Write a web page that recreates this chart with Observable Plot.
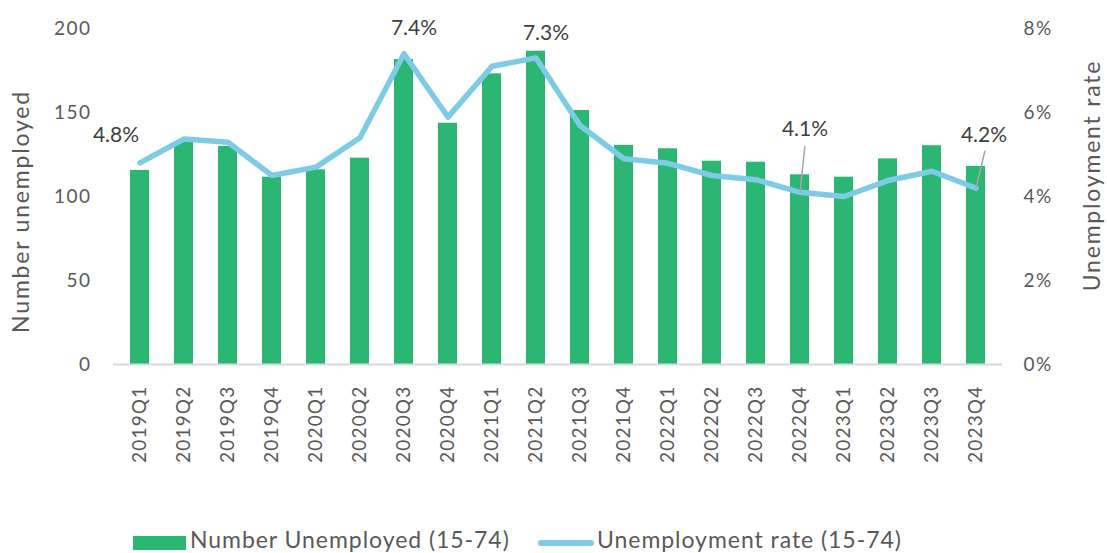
<!DOCTYPE html>
<html><head><meta charset="utf-8">
<script src="https://cdn.jsdelivr.net/npm/d3@7"></script>
<script src="https://cdn.jsdelivr.net/npm/@observablehq/plot@0.6"></script>
<style>
body{margin:0;background:#fff;font-family:Lato,"Open Sans",sans-serif;}
#wrap{position:relative;width:1107px;height:553px;overflow:hidden;}
.leg{position:absolute;top:525px;font-size:23px;color:#595959;font-family:Lato,sans-serif;white-space:nowrap;letter-spacing:0.95px;}
.sw{position:absolute;}
g[aria-label="x-axis tick label"] text{letter-spacing:1.2px;}
g[aria-label="y-axis tick label"] text{letter-spacing:1.5px;}
</style></head><body>
<div id="wrap"><div id="chart"></div></div>
<script>
const quarters = ["2019Q1","2019Q2","2019Q3","2019Q4","2020Q1","2020Q2","2020Q3","2020Q4","2021Q1","2021Q2","2021Q3","2021Q4","2022Q1","2022Q2","2022Q3","2022Q4","2023Q1","2023Q2","2023Q3","2023Q4"];
const unemployed = [115.5,132.3,129.8,111.5,115.9,122.8,181.5,143.6,173.0,186.5,151.2,130.4,128.4,121.0,120.4,112.9,111.5,122.4,130.2,117.9];
const rates = [4.8,5.37,5.29,4.5,4.7,5.4,7.4,5.89,7.1,7.3,5.69,4.9,4.79,4.5,4.4,4.1,4.0,4.38,4.6,4.2];
const countTicks = [0,50,100,150,200];
const rateTicks = [0,2,4,6,8];
const labelAbove = ["2020Q3","2021Q2"];
const labelLeft = ["2019Q1"];
const labelLeaderA = ["2022Q4"];
const labelLeaderB = ["2023Q4"];
const seriesNames = ["Number Unemployed (15-74)","Unemployment rate (15-74)"];
const axisTitles = ["Number unemployed","Unemployment rate"];

const k = 200 / 8; // rate -> count axis
const data = quarters.map((q,i)=>({q, n: unemployed[i], r: rates[i]}));
const fmt = d => d.r.toFixed(1) + "%";
const GREEN = "#2bb673", BLUE = "#7ecbe6", GREY = "#595959", DARK = "#404040";
const leader = {draw(context, l) { context.moveTo(0, 0); context.lineTo(0, -l); }};
const sel = list => data.filter(d => list.includes(d.q));

const chart = Plot.plot({
  width: 1107, height: 525,
  marginLeft: 113, marginRight: 105, marginTop: 28, marginBottom: 161,
  style: {fontFamily: "Lato, 'Open Sans', sans-serif", fontSize: "19px", color: GREY, background: "#fff"},
  x: {domain: quarters, paddingInner: 0.565, paddingOuter: 0.2825, label: null},
  y: {domain: [0, 200], label: null},
  marks: [
    Plot.barY(data, {x: "q", y: "n", fill: GREEN}),
    Plot.ruleY([0], {stroke: "#d9d9d9", strokeWidth: 2}),
    Plot.line(data, {x: "q", y: d => d.r * k, stroke: BLUE, strokeWidth: 5.5, strokeLinejoin: "round", strokeLinecap: "round"}),
    Plot.vector(sel(labelLeaderA), {x: "q", y: d => d.r * k, anchor: "start", length: 46, rotate: 6, shape: leader, stroke: "#a6a6a6", strokeWidth: 1.5}),
    Plot.vector(sel(labelLeaderB), {x: "q", y: d => d.r * k, anchor: "start", length: 38, rotate: 13.5, shape: leader, stroke: "#a6a6a6", strokeWidth: 1.5}),
    Plot.text(sel(labelLeft), {x: "q", y: d => d.r * k, text: fmt, dx: -24, dy: -28, fontSize: 21, fill: DARK}),
    Plot.text(sel(labelAbove), {x: "q", y: d => d.r * k, text: fmt, dx: 10, dy: -25, fontSize: 21, fill: DARK}),
    Plot.text(sel(labelLeaderA), {x: "q", y: d => d.r * k, text: fmt, dx: 5, dy: -63, fontSize: 21, fill: DARK}),
    Plot.text(sel(labelLeaderB), {x: "q", y: d => d.r * k, text: fmt, dx: 8, dy: -53, fontSize: 21, fill: DARK}),
    Plot.axisY({ticks: countTicks, tickSize: 0, tickPadding: 22, label: null, fill: GREY, fontSize: 19}),
    Plot.axisY({anchor: "right", ticks: rateTicks.map(t => t * k), tickFormat: d => (d / k) + "%", tickSize: 0, tickPadding: 21, label: null, fill: GREY, fontSize: 19}),
    Plot.axisX({tickRotate: -90, tickSize: 0, tickPadding: 21, label: null, fill: GREY, fontSize: 19}),
    Plot.text([axisTitles[0]], {frameAnchor: "left", textAnchor: "middle", rotate: -90, dx: -92, dy: 15, fontSize: 23, fill: GREY}),
    Plot.text([axisTitles[1]], {frameAnchor: "right", textAnchor: "middle", rotate: -90, dx: 90, dy: -21, fontSize: 23, fill: GREY})
  ]
});
d3.select(chart).selectAll("text").filter(function(){ return axisTitles.includes(this.textContent); }).attr("letter-spacing", "1.8px");
document.getElementById("chart").appendChild(chart);

const wrap = document.getElementById("wrap");
const sw1 = document.createElement("div");
sw1.className = "sw";
Object.assign(sw1.style, {left: "133px", top: "536px", width: "53px", height: "14px", background: GREEN});
wrap.appendChild(sw1);
const t1 = document.createElement("div");
t1.className = "leg"; t1.style.left = "190px"; t1.textContent = seriesNames[0];
wrap.appendChild(t1);
const sw2 = document.createElement("div");
sw2.className = "sw";
Object.assign(sw2.style, {left: "538px", top: "540px", width: "56px", height: "6px", borderRadius: "3px", background: BLUE});
wrap.appendChild(sw2);
const t2 = document.createElement("div");
t2.className = "leg"; t2.style.left = "597px"; t2.textContent = seriesNames[1];
wrap.appendChild(t2);
</script>
</body></html>
